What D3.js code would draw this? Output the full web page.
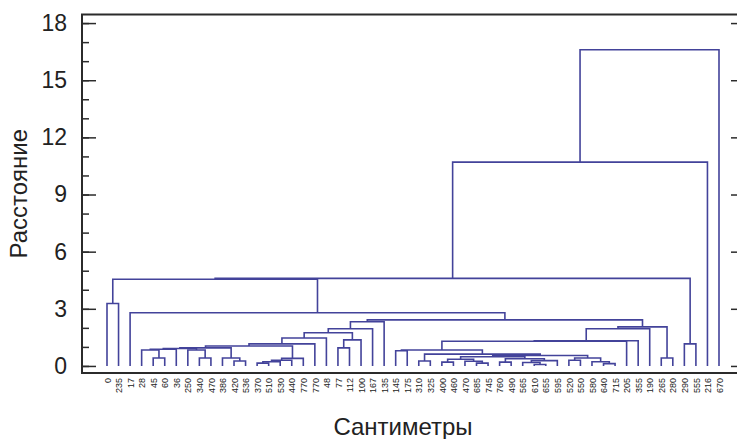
<!DOCTYPE html>
<html>
<head>
<meta charset="utf-8">
<script src="https://cdn.jsdelivr.net/npm/d3@7"></script>
<style>
  html, body { margin: 0; padding: 0; background: #fff; }
  svg { display: block; }
  text { font-family: "Liberation Sans", Arial, sans-serif; }
</style>
</head>
<body>
<svg id="chart" width="737" height="439"></svg>
<script>
// Leaf labels in dendrogram order (left to right)
const leafLabels = ["0","235","17","28","45","60","36","250","340","470","386","420","536",
  "370","510","530","440","770","770","48","77","112","100","167","135","145","175",
  "310","325","400","460","470","685","745","760","490","565","610","655","595","520",
  "550","580","640","715","205","355","190","265","280","290","555","216","670"];

// Linkage rows: [left, right, distance]; ids < n are leaves, id n+k is row k
const mergeLeft  = [0,4,3,8,7,56,59,11,10,60,13,64,65,66,63,68,69,20,71,70,73,74,
  25,27,29,32,31,78,34,37,36,84,82,81,40,43,42,88,87,77,76,94,95,48,96,98,75,2,54,50,102,104,105];
const mergeRight = [1,5,55,9,57,6,58,12,61,62,14,15,16,17,67,18,19,21,22,72,23,24,
  26,28,30,33,79,80,35,38,83,39,85,86,41,44,89,90,91,92,93,45,46,49,47,97,99,100,101,51,103,52,53];
const mergeHeight = [3.28,0.42,0.84,0.42,0.84,0.88,0.92,0.26,0.42,0.95,0.15,0.22,0.30,0.40,
  1.05,1.16,1.47,0.95,1.37,1.74,1.95,2.32,0.80,0.26,0.20,0.15,0.25,0.35,0.20,0.08,0.18,
  0.28,0.38,0.48,0.30,0.12,0.22,0.42,0.55,0.62,0.84,1.30,1.32,0.42,1.95,2.05,2.42,2.79,
  4.55,1.16,4.60,10.70,16.60];

const yMajorTicks = [0, 3, 6, 9, 12, 15, 18];
const yMinorTicks = d3.range(0, 19, 1);
const yTitle = "Расстояние";
const xTitle = "Сантиметры";

const svg = d3.select("#chart");
const frame = { left: 82, right: 745, top: 14.5, bottom: 373 };
const lineColor = "#43439a";
const axisColor = "#2b2b2b";

const n = leafLabels.length;
const x = d3.scalePoint().domain(d3.range(n)).range([107, 719]);
const y = d3.scaleLinear().domain([-0.37, 18.45]).range([frame.bottom, frame.top]);

// Node positions: leaves at their slot, merges at the midpoint of their children
const nodeX = d3.range(n).map(i => x(i));
const nodeH = d3.range(n).map(() => 0);
mergeLeft.forEach((l, k) => {
  const r = mergeRight[k];
  nodeX.push((nodeX[l] + nodeX[r]) / 2);
  nodeH.push(mergeHeight[k]);
});

// Dendrogram links
svg.append("g")
  .attr("fill", "none")
  .attr("stroke", lineColor)
  .attr("stroke-width", 1.6)
  .selectAll("path")
  .data(mergeLeft.map((l, k) => ({ l, r: mergeRight[k], h: mergeHeight[k] })))
  .join("path")
  .attr("d", d => {
    const p = d3.path();
    p.moveTo(nodeX[d.l], y(nodeH[d.l]));
    p.lineTo(nodeX[d.l], y(d.h));
    p.lineTo(nodeX[d.r], y(d.h));
    p.lineTo(nodeX[d.r], y(nodeH[d.r]));
    return p.toString();
  });

// Left axis: labelled major ticks and minor ticks, both pointing inward
const leftMajor = svg.append("g")
  .attr("transform", `translate(${frame.left},0)`)
  .call(d3.axisLeft(y).tickValues(yMajorTicks).tickSizeInner(-14).tickSizeOuter(0).tickPadding(15));
const leftMinor = svg.append("g")
  .attr("transform", `translate(${frame.left},0)`)
  .call(d3.axisLeft(y).tickValues(yMinorTicks).tickSizeInner(-7).tickSizeOuter(0).tickFormat(""));
// Mirrored right axis
const rightMajor = svg.append("g")
  .attr("transform", `translate(${frame.right},0)`)
  .call(d3.axisRight(y).tickValues(yMajorTicks).tickSizeInner(-14).tickSizeOuter(0).tickFormat(""));
const rightMinor = svg.append("g")
  .attr("transform", `translate(${frame.right},0)`)
  .call(d3.axisRight(y).tickValues(yMinorTicks).tickSizeInner(-7).tickSizeOuter(0).tickFormat(""));

[leftMajor, leftMinor, rightMajor, rightMinor].forEach(g => {
  g.select(".domain").remove();
  g.selectAll("line").attr("stroke", axisColor).attr("stroke-width", 1.5);
});
leftMajor.selectAll("text")
  .attr("font-size", 23)
  .attr("fill", "#222")
  .style("font-family", "'Liberation Sans', Arial, sans-serif");

// Bottom axis with rotated leaf labels
const bottom = svg.append("g")
  .attr("transform", `translate(0,${frame.bottom})`)
  .call(d3.axisBottom(x).tickSize(0).tickFormat(i => leafLabels[i]));
bottom.select(".domain").remove();
bottom.selectAll("text")
  .attr("font-size", 9)
  .attr("fill", "#222")
  .style("font-family", "'Liberation Sans', Arial, sans-serif")
  .attr("y", 0)
  .attr("dy", "0.35em")
  .attr("x", -5)
  .attr("transform", "rotate(-90)")
  .attr("text-anchor", "end");

// Plot frame
svg.append("rect")
  .attr("x", frame.left)
  .attr("y", frame.top)
  .attr("width", frame.right - frame.left)
  .attr("height", frame.bottom - frame.top)
  .attr("fill", "none")
  .attr("stroke", axisColor)
  .attr("stroke-width", 2);

// Axis titles
svg.append("text")
  .attr("transform", `translate(27,${(frame.top + frame.bottom) / 2}) rotate(-90)`)
  .attr("text-anchor", "middle")
  .attr("font-size", 24)
  .attr("fill", "#222")
  .text(yTitle);

svg.append("text")
  .attr("x", 403)
  .attr("y", 435)
  .attr("text-anchor", "middle")
  .attr("font-size", 24)
  .attr("fill", "#222")
  .text(xTitle);
</script>
</body>
</html>
